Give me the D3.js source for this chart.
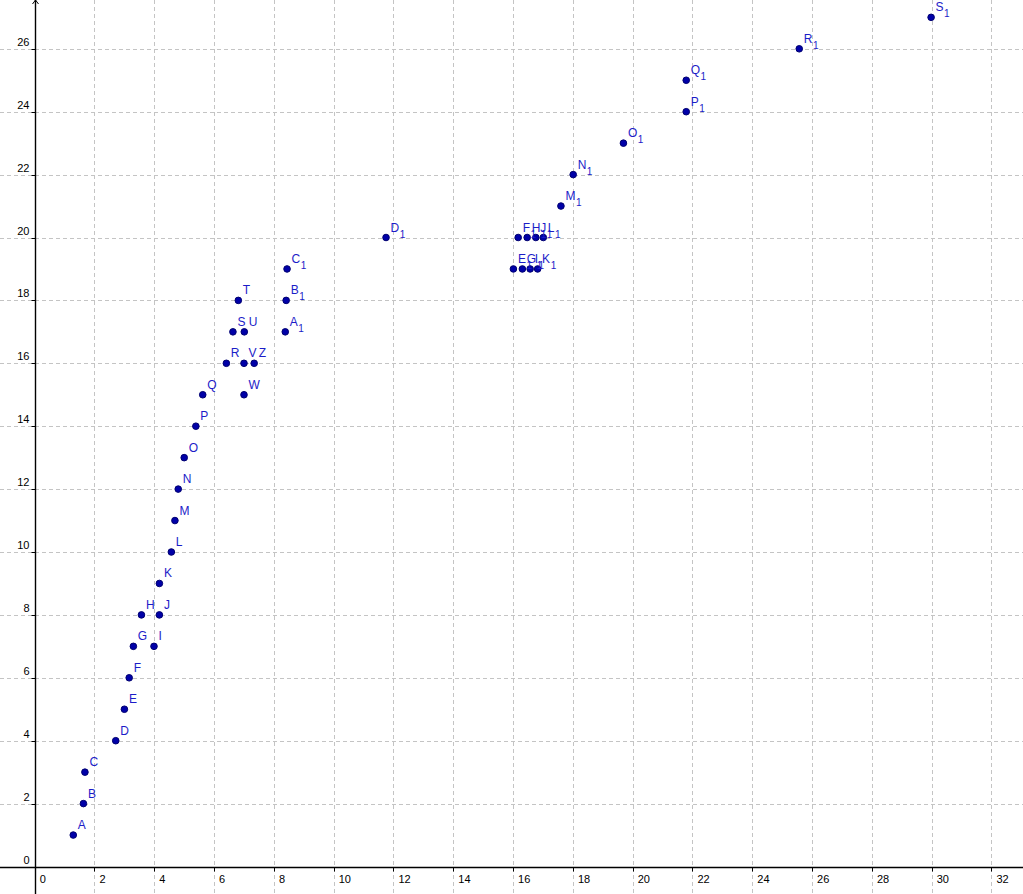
<!DOCTYPE html>
<html>
<head>
<meta charset="utf-8">
<script src="https://cdn.jsdelivr.net/npm/d3@7"></script>
<style>
html,body{margin:0;padding:0;background:#fff;overflow:hidden;}
svg{display:block;}
</style>
</head>
<body>
<script>
// ---- data ----
const names = ["A","B","C","D","E","F","G","H","I","J","K","L","M","N","O","P","Q","R","S","T","U","V","W","Z",
  "A1","B1","C1","D1","E1","F1","G1","H1","I1","J1","K1","L1","M1","N1","O1","P1","Q1","R1","S1"];
const xs = [1.29,1.63,1.68,2.71,3.0,3.16,3.30,3.57,3.99,4.17,4.17,4.57,4.69,4.80,5.0,5.39,5.62,6.41,6.63,6.81,7.01,7.0,7.0,7.34,
  8.38,8.41,8.44,11.75,16.01,16.17,16.31,16.47,16.57,16.76,16.82,17.01,17.6,18.01,19.69,21.79,21.79,25.57,29.98];
const ys = [1,2,3,4,5,6,7,8,7,8,9,10,11,12,13,14,15,16,17,18,17,16,15,16,
  17,18,19,20,19,20,19,20,19,20,19,20,21,22,23,24,25,26,27];
const xTicks = [0,2,4,6,8,10,12,14,16,18,20,22,24,26,28,30,32];
const yTicks = [0,2,4,6,8,10,12,14,16,18,20,22,24,26];

// ---- layout ----
const W = 1023, H = 894;
const x0 = 34.7, ux = 29.9, y0 = 866.5, uy = 31.45;
const x = d3.scaleLinear().domain([-x0/ux, (W-x0)/ux]).range([0, W]);
const y = d3.scaleLinear().domain([-(H-y0)/uy, y0/uy]).range([H, 0]);

const svg = d3.select("body").append("svg").attr("width", W).attr("height", H)
  .style("font-family", "'Liberation Sans', Arial, sans-serif");

// grid
const grid = svg.append("g").attr("stroke", "#c4c4c4").attr("stroke-width", 1).attr("stroke-dasharray", "4,3").attr("fill", "none");
grid.selectAll("line.vx").data(xTicks.filter(d => d !== 0)).enter().append("line")
  .attr("x1", d => Math.round(x(d)) + 0.5).attr("x2", d => Math.round(x(d)) + 0.5)
  .attr("y1", 0).attr("y2", H);
grid.selectAll("line.hy").data(yTicks.filter(d => d !== 0)).enter().append("line")
  .attr("y1", d => Math.round(y(d)) + 0.5).attr("y2", d => Math.round(y(d)) + 0.5)
  .attr("x1", 0).attr("x2", W);

// axes
const ax = svg.append("g").attr("stroke", "#000").attr("stroke-width", 1.4);
const ay0 = Math.round(y(0)) + 0.5, ax0 = Math.round(x(0)) + 0.5;
ax.append("line").attr("x1", 0).attr("x2", W).attr("y1", ay0).attr("y2", ay0);
ax.append("line").attr("x1", ax0).attr("x2", ax0).attr("y1", 0).attr("y2", H);
// arrow on y-axis
ax.append("path").attr("fill", "none").attr("stroke-width", 1)
  .attr("d", `M${ax0-3},4 L${ax0},0 L${ax0+3},4`);
// ticks
ax.selectAll("line.tx").data(xTicks.filter(d => d !== 0)).enter().append("line")
  .attr("stroke-width", 1)
  .attr("x1", d => Math.round(x(d)) + 0.5).attr("x2", d => Math.round(x(d)) + 0.5)
  .attr("y1", ay0).attr("y2", ay0 + 4);
ax.selectAll("line.ty").data(yTicks.filter(d => d !== 0)).enter().append("line")
  .attr("stroke-width", 1)
  .attr("y1", d => Math.round(y(d)) + 0.5).attr("y2", d => Math.round(y(d)) + 0.5)
  .attr("x1", ax0 - 4).attr("x2", ax0);

// tick labels
svg.append("g").selectAll("text").data(xTicks).enter().append("text")
  .attr("x", d => x(d) + 5).attr("y", ay0 + 15)
  .attr("font-size", 11).attr("fill", "#000").text(d => d);
svg.append("g").selectAll("text").data(yTicks).enter().append("text")
  .attr("x", ax0 - 6).attr("y", d => y(d) - 3)
  .attr("text-anchor", "end")
  .attr("font-size", 11).attr("fill", "#000").text(d => d);

// points
const pts = names.map((n, i) => ({ n, x: xs[i], y: ys[i] }));
svg.append("g").selectAll("circle").data(pts).enter().append("circle")
  .attr("cx", d => x(d.x)).attr("cy", d => y(d.y)).attr("r", 3.3)
  .attr("fill", "#0000a8").attr("stroke", "#000070").attr("stroke-width", 1);

// labels
const lab = svg.append("g").attr("fill", "#1c1cc8").attr("font-size", 12);
pts.forEach(d => {
  const t = lab.append("text").attr("x", x(d.x) + 4.5).attr("y", y(d.y) - 6);
  const base = d.n.replace(/\d+$/, "");
  const sub = d.n.slice(base.length);
  t.append("tspan").text(base);
  if (sub) t.append("tspan").attr("font-size", 10).attr("dx", 0.5).attr("dy", 6).text(sub);
});
</script>
</body>
</html>
